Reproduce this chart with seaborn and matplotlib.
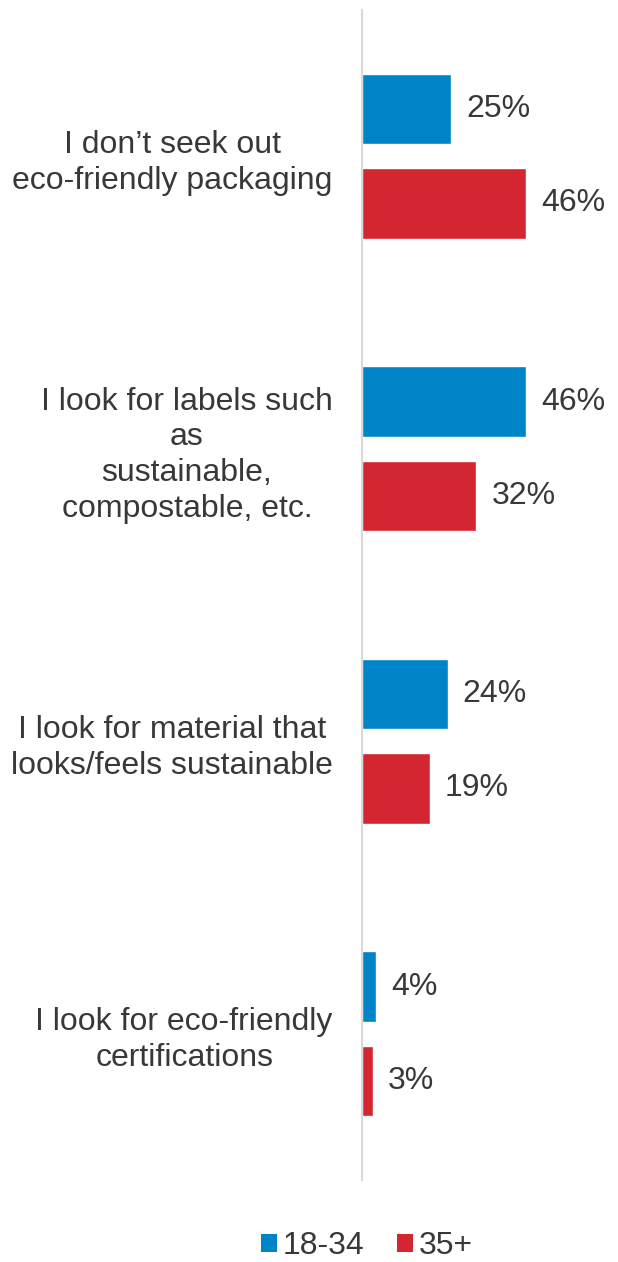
import matplotlib
matplotlib.use("Agg")
import matplotlib.pyplot as plt
import seaborn as sns
import pandas as pd
from matplotlib.patches import Patch

categories = [
    "I don\u2019t seek out\neco-friendly packaging",
    "I look for labels such\nas\nsustainable,\ncompostable, etc.",
    "I look for material that\nlooks/feels sustainable",
    "I look for eco-friendly\ncertifications",
]
groups = ["18-34", "35+"]
values_18_34 = [25, 46, 24, 4]
values_35_plus = [46, 32, 19, 3]
colors = ["#0084C8", "#D42631"]

df = pd.DataFrame({
    "category": categories * 2,
    "group": [groups[0]] * 4 + [groups[1]] * 4,
    "value": values_18_34 + values_35_plus,
})

sns.set_theme(style="white")
plt.rcParams["font.family"] = ["Liberation Sans", "DejaVu Sans"]
text_color = "#383838"
fs = 23

fig = plt.figure(figsize=(6.18, 12.62), dpi=100)
ax = fig.add_axes([362 / 618, 1 - 1180 / 1262, (605 - 362) / 618, (1180 - 10) / 1262])

sns.barplot(data=df, y="category", x="value", hue="group", order=categories,
            hue_order=groups, palette=colors, orient="h", width=0.645, gap=0.25,
            ax=ax, legend=False, saturation=1)

for cont in ax.containers:
    ax.bar_label(cont, labels=[f"{v:.0f}%" for v in cont.datavalues],
                 padding=11, fontsize=fs, color=text_color)

ax.set_xlim(0, (605 - 362) / 3.565)
ax.set_ylim(3.5, -0.5)
ax.set_xlabel("")
ax.set_ylabel("")
ax.set_xticks([])
ax.tick_params(axis="y", length=0, pad=21)
for lbl in ax.get_yticklabels():
    lbl.set_fontsize(fs)
    lbl.set_color(text_color)
    lbl.set_multialignment("center")
    lbl.set_linespacing(1.25)

for side in ["top", "right", "bottom"]:
    ax.spines[side].set_visible(False)
ax.spines["left"].set_color("#D9D9D9")
ax.spines["left"].set_linewidth(1.5)

handles = [Patch(facecolor=c, edgecolor="none") for c in colors]
fig.legend(handles, groups, loc="center", bbox_to_anchor=(367 / 618, 1 - 1246 / 1262),
           ncol=2, frameon=False, fontsize=fs, handlelength=0.5, handleheight=0.5,
           handletextpad=0.2, columnspacing=1.0, labelcolor=text_color,
           borderpad=0.1)

fig.savefig("out.png", dpi=100)
